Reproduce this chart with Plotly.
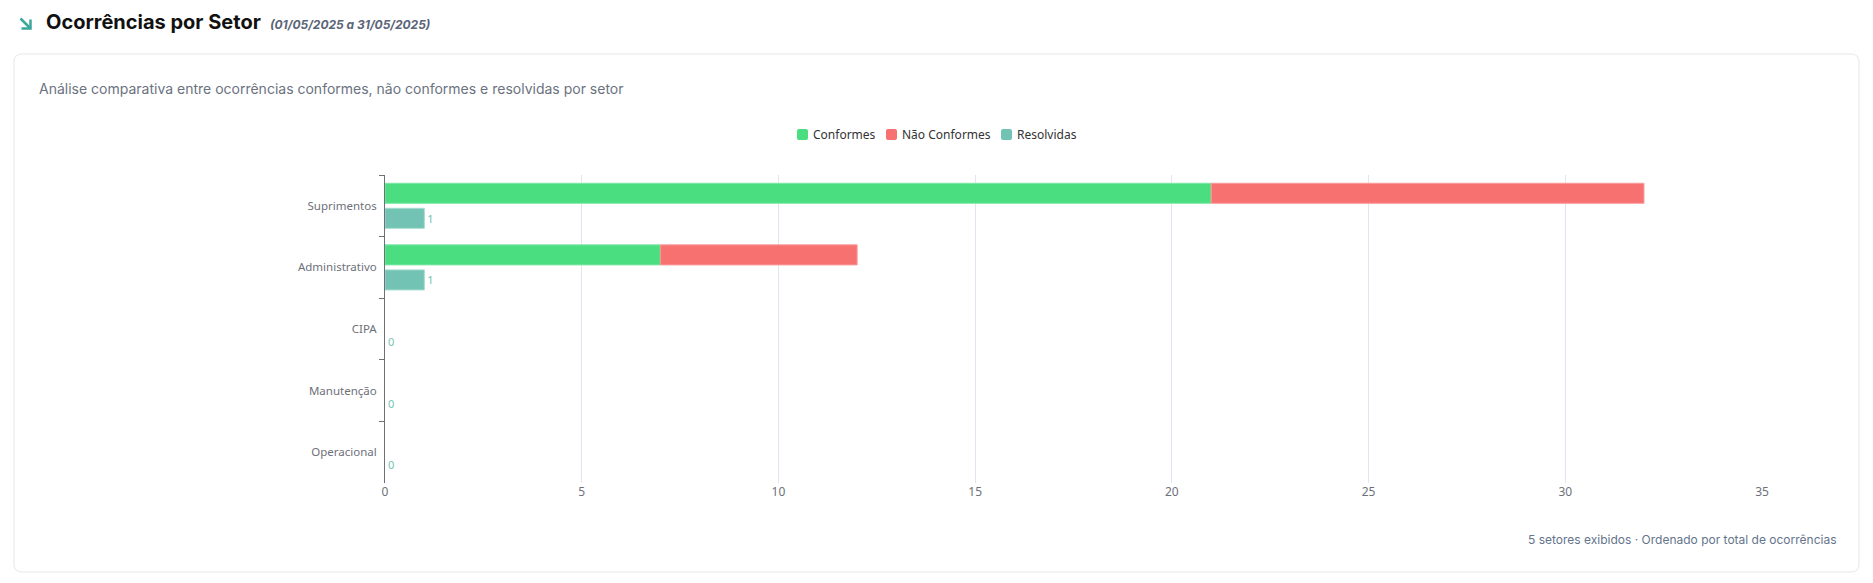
import plotly.graph_objects as go

setores = ["Suprimentos", "Administrativo", "CIPA", "Manutenção", "Operacional"]
conformes = [21, 7, 0, 0, 0]
nao_conformes = [11, 5, 0, 0, 0]
resolvidas = [1, 1, 0, 0, 0]
x_ticks = [0, 5, 10, 15, 20, 25, 30, 35]
series_names = ["Conformes", "Não Conformes", "Resolvidas"]
series_colors = ["#4ade80", "#f87171", "#72c3b3"]

W, H = 1873, 583
L, R, T, B = 385, 1762, 175, 483

def px(x):
    return (x - L) / (R - L)

def py(y):
    return (B - y) / (B - T)

def rrect(x0, y0, x1, y1, r):
    return (
        f"M {px(x0 + r)} {py(y0)} L {px(x1 - r)} {py(y0)} "
        f"Q {px(x1)} {py(y0)} {px(x1)} {py(y0 + r)} "
        f"L {px(x1)} {py(y1 - r)} Q {px(x1)} {py(y1)} {px(x1 - r)} {py(y1)} "
        f"L {px(x0 + r)} {py(y1)} Q {px(x0)} {py(y1)} {px(x0)} {py(y1 - r)} "
        f"L {px(x0)} {py(y0 + r)} Q {px(x0)} {py(y0)} {px(x0 + r)} {py(y0)} Z"
    )

def lw(vals):
    return [1 if v > 0 else 0 for v in vals]

fig = go.Figure()
fig.add_trace(go.Bar(
    y=setores, x=conformes, name=series_names[0], orientation="h",
    offsetgroup="a", marker=dict(color=series_colors[0], line=dict(color="#7ee8a6", width=lw(conformes))),
    hoverinfo="x+name",
))
fig.add_trace(go.Bar(
    y=setores, x=nao_conformes, base=conformes, name=series_names[1], orientation="h",
    offsetgroup="a", marker=dict(color=series_colors[1], line=dict(color="#fa9a9a", width=lw(nao_conformes))),
    hoverinfo="x+name",
))
fig.add_trace(go.Bar(
    y=setores, x=resolvidas, name=series_names[2], orientation="h",
    offsetgroup="b", marker=dict(color=series_colors[2], line=dict(color="#a6dccf", width=lw(resolvidas))),
    text=[str(v) for v in resolvidas], textposition="outside",
    textfont=dict(color="#72c3b3", size=11, family="Noto Sans"),
    cliponaxis=False, hoverinfo="x+name",
))

shapes = [dict(type="path", path=rrect(14, 54, 1859, 572, 8), xref="paper", yref="paper",
               line=dict(color="#e5e7eb", width=1), fillcolor="rgba(0,0,0,0)", layer="below")]

# title icon (arrow down-right)
icon_col = "#3aa89a"
shapes.append(dict(type="path", xref="paper", yref="paper",
                   path=f"M {px(20.5)} {py(18.5)} L {px(30.5)} {py(28.5)}",
                   line=dict(color=icon_col, width=2.5)))
shapes.append(dict(type="path", xref="paper", yref="paper",
                   path=f"M {px(30.5)} {py(19.5)} L {px(30.5)} {py(28.5)} L {px(21.5)} {py(28.5)}",
                   line=dict(color=icon_col, width=2.5), fillcolor="rgba(0,0,0,0)"))

annotations = [
    dict(text="<b>Ocorrências por Setor</b>", x=px(44), y=py(22), xref="paper", yref="paper",
         showarrow=False, xanchor="left", yanchor="middle",
         font=dict(family="Inter", size=20, color="#111111")),
    dict(text="<b><i>(01/05/2025 a 31/05/2025)</i></b>", x=px(268), y=py(25), xref="paper", yref="paper",
         showarrow=False, xanchor="left", yanchor="middle",
         font=dict(family="Inter", size=12, color="#5b6577")),
    dict(text="Análise comparativa entre ocorrências conformes, não conformes e resolvidas por setor",
         x=px(37), y=py(89), xref="paper", yref="paper",
         showarrow=False, xanchor="left", yanchor="middle",
         font=dict(family="Inter", size=14, color="#6b7280")),
    dict(text="5 setores exibidos · Ordenado por total de ocorrências",
         x=px(1838), y=py(539), xref="paper", yref="paper",
         showarrow=False, xanchor="right", yanchor="middle",
         font=dict(family="Inter", size=12, color="#64748b")),
]

# legend drawn compactly (square + label)
legend_x = [797, 886, 1001]
for name, col, lx in zip(series_names, series_colors, legend_x):
    shapes.append(dict(type="path", path=rrect(lx, 129, lx + 11, 140, 2), xref="paper", yref="paper",
                       line=dict(width=0), fillcolor=col))
    annotations.append(dict(text=name, x=px(lx + 14), y=py(134.5), xref="paper", yref="paper",
                            showarrow=False, xanchor="left", yanchor="middle",
                            font=dict(family="Noto Sans", size=12, color="#333333")))

fig.update_layout(
    width=W, height=H,
    margin=dict(l=L, r=W - R, t=T, b=H - B, pad=0),
    paper_bgcolor="white", plot_bgcolor="white",
    barmode="group", bargap=0.187, bargroupgap=0.2,
    showlegend=False,
    xaxis=dict(range=[0, 35], tickvals=x_ticks, showgrid=True, gridcolor="#e0e6f1",
               zeroline=False, showline=False, ticks="",
               tickfont=dict(family="Noto Sans", size=12, color="#6e7079")),
    yaxis=dict(autorange="reversed", type="category", showline=True, linecolor="#6e7079",
               linewidth=1, ticks="outside", tickson="boundaries", ticklen=5,
               tickcolor="#6e7079", showgrid=False, ticklabelstandoff=5,
               tickfont=dict(family="Noto Sans", size=11.5, color="#6e7079")),
    shapes=shapes,
    annotations=annotations,
)

fig.write_html("out.html", config={"displayModeBar": False},
               post_script="document.body.style.margin='0';document.body.style.overflow='hidden';")
